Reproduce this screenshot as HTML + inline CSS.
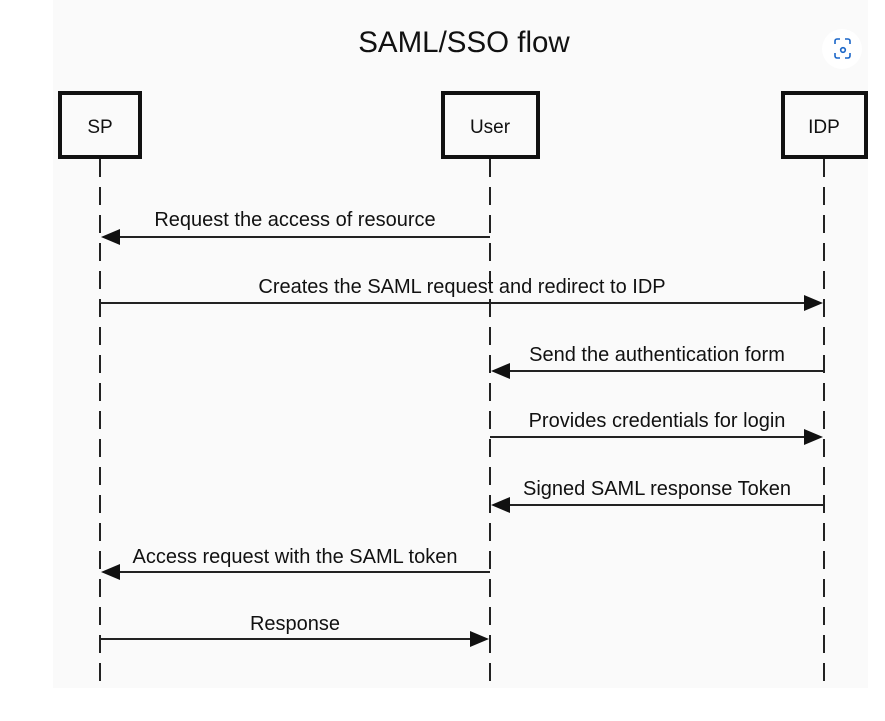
<!DOCTYPE html>
<html><head><meta charset="utf-8"><style>
html,body{margin:0;padding:0;background:#fff;}
svg{display:block;}
text{font-family:"Liberation Sans",Arial,sans-serif;fill:#111;}
</style></head><body>
<svg width="885" height="721" viewBox="0 0 885 721" xmlns="http://www.w3.org/2000/svg">
<rect x="53" y="0" width="815" height="688" fill="#fafafa"/>
<text x="464" y="52" font-size="29.5" text-anchor="middle">SAML/SSO flow</text>
<circle cx="842" cy="49" r="20" fill="#fff"/>
<g fill="none" stroke="#1a66c8" stroke-width="1.6">
<path d="M835 44v-3a2 2 0 0 1 2-2h3M845 39h3a2 2 0 0 1 2 2v3M850 53v3a2 2 0 0 1-2 2h-3M840 58h-3a2 2 0 0 1-2-2v-3"/>
<circle cx="843" cy="50" r="2.3"/>
</g>
<g fill="none" stroke="#111" stroke-width="4">
<rect x="60" y="93" width="80" height="64"/>
<rect x="443" y="93" width="95" height="64"/>
<rect x="783" y="93" width="83" height="64"/>
</g>
<text x="100" y="133" font-size="19" text-anchor="middle">SP</text>
<text x="490" y="133" font-size="19" text-anchor="middle">User</text>
<text x="824" y="133" font-size="19" text-anchor="middle">IDP</text>
<g stroke="#222" stroke-width="2" stroke-dasharray="18 10">
<line x1="100" y1="159" x2="100" y2="688"/>
<line x1="490" y1="159" x2="490" y2="688"/>
<line x1="824" y1="159" x2="824" y2="688"/>
</g>
<g stroke="#222" stroke-width="2">
<line x1="490" y1="237" x2="110" y2="237"/>
<line x1="100" y1="303" x2="814" y2="303"/>
<line x1="824" y1="371" x2="500" y2="371"/>
<line x1="490" y1="437" x2="814" y2="437"/>
<line x1="824" y1="505" x2="500" y2="505"/>
<line x1="490" y1="572" x2="110" y2="572"/>
<line x1="100" y1="639" x2="480" y2="639"/>
</g>
<g fill="#111">
<polygon points="101,237 120,229 120,245"/>
<polygon points="823,303 804,295 804,311"/>
<polygon points="491,371 510,363 510,379"/>
<polygon points="823,437 804,429 804,445"/>
<polygon points="491,505 510,497 510,513"/>
<polygon points="101,572 120,564 120,580"/>
<polygon points="489,639 470,631 470,647"/>
</g>
<g font-size="20" text-anchor="middle">
<text x="295" y="226">Request the access of resource</text>
<text x="462" y="293">Creates the SAML request and redirect to IDP</text>
<text x="657" y="361">Send the authentication form</text>
<text x="657" y="427">Provides credentials for login</text>
<text x="657" y="495">Signed SAML response Token</text>
<text x="295" y="563">Access request with the SAML token</text>
<text x="295" y="630">Response</text>
</g>
</svg>
</body></html>
